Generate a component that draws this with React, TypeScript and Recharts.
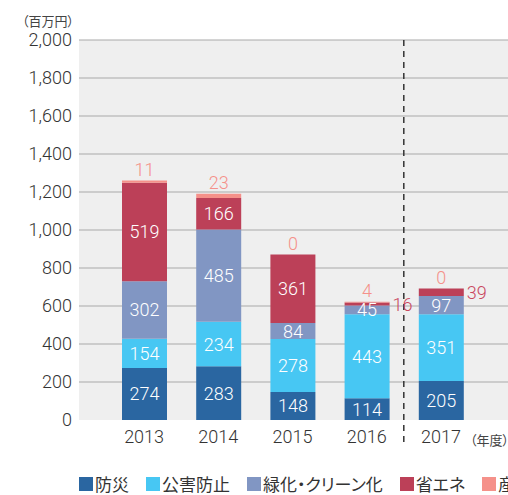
import { Bar, BarChart, CartesianGrid, LabelList, ReferenceLine, XAxis, YAxis } from 'recharts';

const years = ['2013', '2014', '2015', '2016', '2017'];
const bousai = [274, 283, 148, 114, 205];
const kougai = [154, 234, 278, 443, 351];
const ryokuka = [302, 485, 84, 45, 97];
const shoene = [519, 166, 361, 16, 39];
const sanpai = [11, 23, 0, 4, 0];
const yTicks = [0, 200, 400, 600, 800, 1000, 1200, 1400, 1600, 1800, 2000];

const series = [
  { key: 'bousai', name: '防災', color: '#2a66a1' },
  { key: 'kougai', name: '公害防止', color: '#47c7f3' },
  { key: 'ryokuka', name: '緑化・クリーン化', color: '#8196c3' },
  { key: 'shoene', name: '省エネ', color: '#bc4058' },
  { key: 'sanpai', name: '産業廃棄物', color: '#f5918a' },
];

const data = years.map((year, i) => ({
  year,
  bousai: bousai[i],
  kougai: kougai[i],
  ryokuka: ryokuka[i],
  shoene: shoene[i],
  sanpai: sanpai[i],
}));

const FONT = 'Roboto, "Liberation Sans", sans-serif';
const JP = '"Noto Sans CJK JP", sans-serif';

const insideLabel = (props: any) => {
  const { x, y, width, height, value } = props;
  return (
    <text x={x + width / 2} y={y + height / 2} fill="#fff" fontSize={18} fontFamily={FONT} fontWeight={300}
      textAnchor="middle" dominantBaseline="central">{value}</text>
  );
};

const shoeneLabel = (props: any) => {
  const { x, y, width, height, value } = props;
  if (value < 50) {
    return (
      <text x={x + width + 3} y={y + height / 2} fill="#c9475f" fontSize={18} fontFamily={FONT} fontWeight={300}
        textAnchor="start" dominantBaseline="central">{value}</text>
    );
  }
  return insideLabel(props);
};

// 産廃 label sits above the stack top; placed from the 省エネ segment so zero values still show
const topLabel = (props: any) => {
  const { x, y, width, height, value, index } = props;
  const top = y - (value * height) / shoene[index];
  return (
    <text x={x + width / 2} y={top - 5} fill="#f5918a" fontSize={18} fontFamily={FONT} fontWeight={300}
      textAnchor="middle">{value}</text>
  );
};

export default function App() {
  return (
    <div style={{ position: 'fixed', left: 0, top: 0, width: 508, height: 495, overflow: 'hidden', background: '#fff' }}>
      <div style={{ position: 'absolute', left: 22, top: 13, fontSize: 13, fontFamily: JP, color: '#444', fontFeatureSettings: '"palt"', lineHeight: '16px' }}>
        （百万円）
      </div>
      <BarChart width={508} height={495} data={data} margin={{ top: 40, right: 0, left: 8, bottom: 45 }}>
        <CartesianGrid vertical={false} fill="#efefef" fillOpacity={1} stroke="#a9a9a9"
          horizontalValues={yTicks.filter((t) => t > 0)} />
        <XAxis dataKey="year" axisLine={false} tickLine={false} tickMargin={4} height={30}
          padding={{ left: 28, right: 30 }}
          tick={{ fontSize: 18, fill: '#333', fontFamily: FONT, fontWeight: 300 }} />
        <YAxis width={71} domain={[0, 2000]} ticks={yTicks} axisLine={false} tickLine={false} tickMargin={1}
          tickFormatter={(v: number) => v.toLocaleString('en-US')}
          tick={{ fontSize: 18, fill: '#333', fontFamily: FONT, fontWeight: 300 }} />
        <Bar dataKey="bousai" stackId="a" fill={series[0].color} barSize={45} isAnimationActive={false}>
          <LabelList dataKey="bousai" content={insideLabel} />
        </Bar>
        <Bar dataKey="kougai" stackId="a" fill={series[1].color} barSize={45} isAnimationActive={false}>
          <LabelList dataKey="kougai" content={insideLabel} />
        </Bar>
        <Bar dataKey="ryokuka" stackId="a" fill={series[2].color} barSize={45} isAnimationActive={false}>
          <LabelList dataKey="ryokuka" content={insideLabel} />
        </Bar>
        <Bar dataKey="shoene" stackId="a" fill={series[3].color} barSize={45} isAnimationActive={false}>
          <LabelList dataKey="shoene" content={shoeneLabel} />
          <LabelList dataKey="sanpai" content={topLabel} />
        </Bar>
        <Bar dataKey="sanpai" stackId="a" fill={series[4].color} barSize={45} isAnimationActive={false} />
        <ReferenceLine segment={[{ x: '2017', y: 2000 }, { x: '2017', y: -130 }]} position="start"
          ifOverflow="visible" stroke="#333" strokeWidth={1.5} strokeDasharray="6 5" />
      </BarChart>
      <div style={{ position: 'absolute', left: 470, top: 432, fontSize: 13, fontFamily: JP, color: '#444', fontFeatureSettings: '"palt"', whiteSpace: 'nowrap', lineHeight: '16px' }}>
        （年度）
      </div>
      <div style={{ position: 'absolute', left: 79, top: 474, width: 'max-content', display: 'flex', gap: 17, whiteSpace: 'nowrap', fontSize: 17, fontFamily: JP, color: '#333', fontFeatureSettings: '"palt"', lineHeight: '20px' }}>
        {series.map((s) => (
          <div key={s.key} style={{ display: 'flex', alignItems: 'center', flexShrink: 0, height: 20 }}>
            <span style={{ display: 'inline-block', width: 14, height: 14, background: s.color, marginRight: 2 }} />
            <span>{s.name}</span>
          </div>
        ))}
      </div>
    </div>
  );
}
